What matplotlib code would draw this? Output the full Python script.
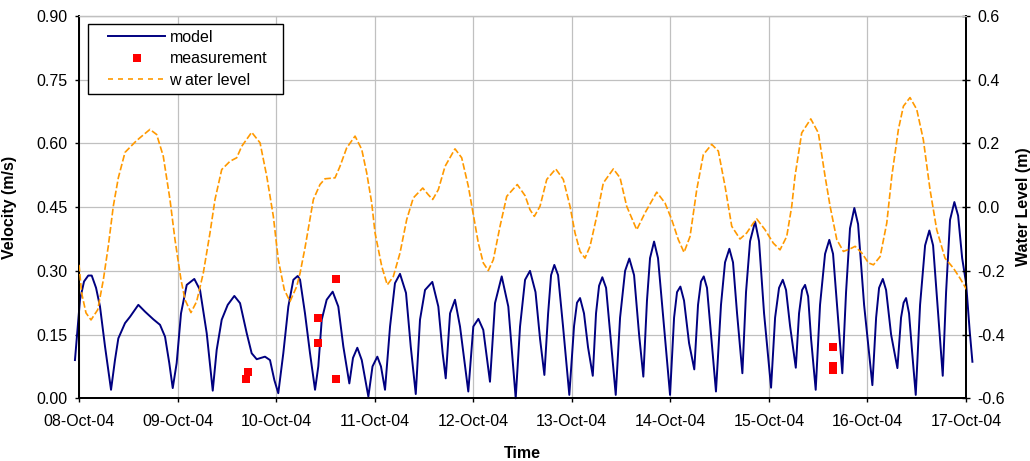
import matplotlib
matplotlib.use("Agg")
import matplotlib.pyplot as plt
import matplotlib.dates as mdates
from matplotlib.ticker import FormatStrFormatter
from matplotlib.lines import Line2D
from matplotlib.legend_handler import HandlerLine2D
import numpy as np
from datetime import datetime

plt.rcParams['font.family'] = ['Liberation Sans', 'DejaVu Sans']
plt.rcParams['axes.unicode_minus'] = False

# ---------------- data (days since 08-Oct-2004 00:00) ----------------
start_date = datetime(2004, 10, 8)
day_ticks = list(range(10))

model_day = [-0.041, 0.010, 0.051, 0.094, 0.129, 0.173, 0.213, 0.264, 0.325, 0.365,
             0.399, 0.467, 0.518, 0.602, 0.670, 0.754, 0.822, 0.873, 0.916, 0.951,
             0.991, 1.035, 1.093, 1.170, 1.228, 1.296, 1.357, 1.397, 1.448, 1.509,
             1.576, 1.634, 1.702, 1.752, 1.803, 1.887, 1.938, 1.982, 2.022, 2.073,
             2.124, 2.175, 2.219, 2.243, 2.293, 2.344, 2.395, 2.428, 2.463, 2.513,
             2.574, 2.631, 2.682, 2.743, 2.780, 2.824, 2.869, 2.936, 2.978, 3.027,
             3.064, 3.105, 3.156, 3.206, 3.257, 3.318, 3.366, 3.417, 3.460, 3.511,
             3.585, 3.646, 3.690, 3.721, 3.765, 3.815, 3.866, 3.950, 4.001, 4.052,
             4.102, 4.170, 4.221, 4.289, 4.356, 4.431, 4.475, 4.526, 4.576, 4.632,
             4.678, 4.722, 4.760, 4.790, 4.823, 4.861, 4.911, 4.975, 5.023, 5.053,
             5.084, 5.124, 5.165, 5.213, 5.246, 5.277, 5.310, 5.348, 5.398, 5.446,
             5.490, 5.541, 5.584, 5.632, 5.683, 5.726, 5.763, 5.794, 5.835, 5.875,
             5.936, 5.997, 6.038, 6.068, 6.102, 6.139, 6.190, 6.243, 6.281, 6.311,
             6.339, 6.372, 6.413, 6.463, 6.514, 6.555, 6.599, 6.636, 6.677, 6.731,
             6.768, 6.809, 6.860, 6.900, 6.951, 7.022, 7.063, 7.103, 7.141, 7.174,
             7.215, 7.273, 7.306, 7.337, 7.367, 7.398, 7.428, 7.475, 7.519, 7.570,
             7.613, 7.651, 7.691, 7.745, 7.783, 7.823, 7.867, 7.905, 7.966, 8.050,
             8.088, 8.118, 8.156, 8.189, 8.240, 8.304, 8.341, 8.367, 8.392, 8.422,
             8.453, 8.490, 8.534, 8.585, 8.628, 8.666, 8.717, 8.764, 8.798, 8.838,
             8.882, 8.920, 8.961, 9.001, 9.037, 9.065]
model_vel = [0.090, 0.232, 0.275, 0.289, 0.289, 0.260, 0.216, 0.122, 0.020, 0.090,
             0.141, 0.177, 0.192, 0.220, 0.204, 0.186, 0.173, 0.145, 0.083, 0.024,
             0.083, 0.200, 0.267, 0.281, 0.255, 0.153, 0.018, 0.114, 0.185, 0.220,
             0.241, 0.224, 0.153, 0.106, 0.092, 0.098, 0.090, 0.043, 0.012, 0.106,
             0.216, 0.279, 0.288, 0.279, 0.200, 0.106, 0.020, 0.075, 0.185, 0.232,
             0.251, 0.216, 0.122, 0.035, 0.095, 0.119, 0.090, 0.004, 0.075, 0.098,
             0.075, 0.020, 0.169, 0.271, 0.293, 0.248, 0.122, 0.010, 0.185, 0.255,
             0.274, 0.216, 0.106, 0.047, 0.200, 0.232, 0.169, 0.016, 0.169, 0.187,
             0.161, 0.039, 0.224, 0.287, 0.216, 0.000, 0.169, 0.279, 0.300, 0.250,
             0.140, 0.055, 0.200, 0.290, 0.314, 0.290, 0.170, 0.008, 0.170, 0.225,
             0.236, 0.200, 0.120, 0.053, 0.200, 0.265, 0.285, 0.260, 0.130, 0.008,
             0.190, 0.300, 0.329, 0.290, 0.150, 0.051, 0.230, 0.330, 0.369, 0.330,
             0.170, 0.008, 0.190, 0.250, 0.263, 0.230, 0.130, 0.068, 0.220, 0.275,
             0.287, 0.260, 0.150, 0.016, 0.220, 0.320, 0.352, 0.320, 0.200, 0.059,
             0.250, 0.370, 0.416, 0.370, 0.200, 0.025, 0.190, 0.260, 0.279, 0.255,
             0.170, 0.072, 0.200, 0.255, 0.267, 0.240, 0.140, 0.020, 0.220, 0.340,
             0.373, 0.340, 0.220, 0.059, 0.250, 0.400, 0.448, 0.410, 0.220, 0.031,
             0.190, 0.260, 0.281, 0.255, 0.150, 0.071, 0.190, 0.225, 0.236, 0.200,
             0.110, 0.008, 0.220, 0.360, 0.395, 0.360, 0.200, 0.053, 0.250, 0.420,
             0.462, 0.430, 0.330, 0.271, 0.160, 0.086]

level_day = [0.000, 0.027, 0.071, 0.122, 0.190, 0.247, 0.297, 0.348, 0.399, 0.467,
             0.568, 0.619, 0.720, 0.788, 0.855, 0.923, 0.974, 1.035, 1.076, 1.136,
             1.194, 1.261, 1.329, 1.380, 1.448, 1.532, 1.600, 1.651, 1.752, 1.837,
             1.905, 1.972, 2.022, 2.083, 2.141, 2.209, 2.243, 2.293, 2.378, 2.445,
             2.496, 2.598, 2.648, 2.716, 2.801, 2.869, 2.919, 2.970, 3.004, 3.072,
             3.128, 3.189, 3.257, 3.325, 3.392, 3.488, 3.544, 3.589, 3.646, 3.714,
             3.815, 3.883, 3.950, 4.001, 4.052, 4.102, 4.153, 4.204, 4.272, 4.340,
             4.447, 4.526, 4.576, 4.620, 4.678, 4.746, 4.837, 4.914, 4.982, 5.033,
             5.084, 5.134, 5.185, 5.253, 5.320, 5.422, 5.490, 5.557, 5.659, 5.743,
             5.862, 5.946, 6.014, 6.081, 6.139, 6.200, 6.268, 6.335, 6.420, 6.487,
             6.555, 6.623, 6.707, 6.775, 6.842, 6.877, 6.961, 7.045, 7.113, 7.181,
             7.232, 7.265, 7.333, 7.425, 7.502, 7.570, 7.621, 7.689, 7.756, 7.824,
             7.875, 7.943, 8.010, 8.061, 8.129, 8.196, 8.247, 8.314, 8.365, 8.432,
             8.500, 8.567, 8.635, 8.703, 8.787, 8.871, 8.939, 9.007]
level_m = [-0.181, -0.270, -0.332, -0.354, -0.322, -0.228, -0.123, 0.003, 0.092, 0.172,
           0.204, 0.218, 0.244, 0.228, 0.160, 0.024, -0.102, -0.228, -0.291, -0.331,
           -0.296, -0.207, -0.081, 0.024, 0.118, 0.144, 0.155, 0.191, 0.235, 0.202,
           0.097, -0.029, -0.165, -0.259, -0.296, -0.249, -0.207, -0.128, 0.024, 0.071,
           0.089, 0.092, 0.128, 0.186, 0.223, 0.181, 0.108, 0.013, -0.081, -0.186,
           -0.244, -0.218, -0.144, -0.039, 0.029, 0.060, 0.039, 0.024, 0.055, 0.128,
           0.183, 0.155, 0.066, -0.024, -0.113, -0.175, -0.199, -0.165, -0.060, 0.034,
           0.071, 0.036, -0.008, -0.029, 0.003, 0.087, 0.120, 0.087, 0.003, -0.081,
           -0.139, -0.160, -0.123, -0.029, 0.076, 0.120, 0.092, 0.003, -0.071, -0.018,
           0.047, 0.013, -0.039, -0.102, -0.142, -0.092, 0.055, 0.165, 0.197, 0.176,
           0.066, -0.060, -0.100, -0.081, -0.050, -0.037, -0.071, -0.113, -0.134, -0.092,
           0.003, 0.097, 0.233, 0.277, 0.233, 0.097, 0.003, -0.102, -0.139, -0.131,
           -0.123, -0.144, -0.175, -0.181, -0.155, -0.050, 0.097, 0.244, 0.317, 0.344,
           0.307, 0.212, 0.055, -0.071, -0.160, -0.191, -0.223, -0.259]

meas_day = [1.695, 1.712, 2.428, 2.428, 2.608, 2.608, 7.648, 7.648, 7.648]
meas_vel = [0.045, 0.063, 0.189, 0.130, 0.281, 0.045, 0.120, 0.075, 0.066]

labels = ['model', 'measurement', 'w ater level']

# ---------------- figure ----------------
W, H = 1030, 461
fig = plt.figure(figsize=(W / 100, H / 100), dpi=100)
L, R, T, B = 79, 966, 16, 398.3
ax = fig.add_axes([L / W, (H - B) / H, (R - L) / W, (B - T) / H])
ax2 = ax.twinx()

base = mdates.date2num(start_date)
mx = base + np.array(model_day)
lx = base + np.array(level_day)
sx = base + np.array(meas_day)

navy = '#000080'
orange = '#FF9900'
grid_c = '#C0C0C0'

ax.plot(mx, model_vel, color=navy, lw=1.4, clip_on=False, zorder=3)
ax.plot(sx, meas_vel, linestyle='none', marker='s', ms=6, color='#FF0000',
        markeredgewidth=0, zorder=4)
ax2.plot(lx, level_m, color=orange, lw=1.2, linestyle=(0, (4, 1.5)), zorder=3)

ax.set_xlim(base + day_ticks[0], base + day_ticks[-1])
ax.set_ylim(0, 0.90)
ax2.set_ylim(-0.6, 0.6)

ax.set_xticks([base + d for d in day_ticks])
ax.xaxis.set_major_formatter(mdates.DateFormatter('%d-%b-%y'))
ax.set_yticks(np.linspace(0, 0.90, 7))
ax.yaxis.set_major_formatter(FormatStrFormatter('%.2f'))
ax2.set_yticks(np.linspace(-0.6, 0.6, 7))
ax2.yaxis.set_major_formatter(FormatStrFormatter('%.1f'))

ax.grid(True, color=grid_c, lw=0.9)
ax.set_axisbelow(True)

for a in (ax, ax2):
    a.spines['top'].set_color(grid_c)
    a.spines['top'].set_linewidth(0.9)
    for s in ('left', 'bottom', 'right'):
        a.spines[s].set_color('black')
        a.spines[s].set_linewidth(1.3)

ax.tick_params(axis='both', which='major', labelsize=11.5, direction='out',
               length=3, width=1, colors='black')
ax.tick_params(axis='y', pad=5)
ax.tick_params(axis='x', pad=8)
ax2.tick_params(axis='y', labelsize=11.5, direction='inout', length=6, width=1, pad=5)

ax.set_ylabel('Velocity (m/s)', fontsize=11.5, fontweight='bold')
ax.yaxis.set_label_coords(-0.070, 0.5)
ax2.set_ylabel('Water Level (m)', fontsize=11.5, fontweight='bold')
ax2.yaxis.set_label_coords(1.056, 0.5)
ax.set_xlabel('Time', fontsize=11.5, fontweight='bold')
ax.xaxis.set_label_coords(0.5, -0.125)

handles = [Line2D([], [], color=navy, lw=1.4),
           Line2D([], [], linestyle='none', marker='s', ms=6, color='#FF0000',
                  markeredgewidth=0),
           Line2D([], [], color=orange, lw=1.2, linestyle=(0, (3, 3)))]
leg_x0 = (88 - L) / (R - L)
leg_y1 = (B - 24) / (B - T)
leg_w = (283 - 88) / (R - L)
leg_h = (96 - 24) / (B - T)
leg = ax2.legend(handles, labels, loc='upper left',
                 bbox_to_anchor=(leg_x0, leg_y1 - leg_h, leg_w, leg_h),
                 mode='expand',
                 handler_map={Line2D: HandlerLine2D(xpad=0.9)},
                 fontsize=11.5, frameon=True, fancybox=False, framealpha=1,
                 edgecolor='black', borderpad=0.35, labelspacing=0.42,
                 handlelength=4.5, handletextpad=0.25, borderaxespad=0,
                 numpoints=1)
leg.get_frame().set_linewidth(1.0)
leg.set_zorder(10)

fig.savefig('out.png', dpi=100)
